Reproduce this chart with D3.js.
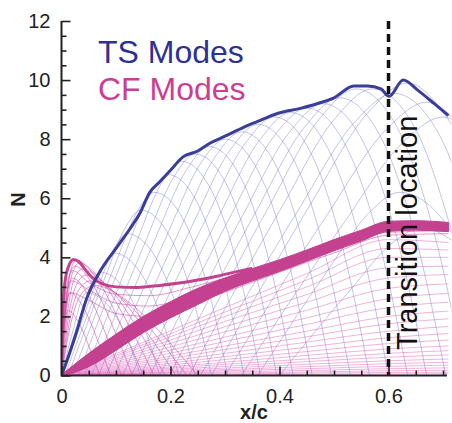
<!DOCTYPE html>
<html><head><meta charset="utf-8">
<script src="https://cdn.jsdelivr.net/npm/d3@7"></script>
<style>body{margin:0;background:#fff} svg{display:block}</style>
</head><body>
<svg id="c" width="452" height="423"></svg>
<script>
// ---------- DATA ----------
const tsEnvelope = [[0,0],[0.01,0.5],[0.028,1.5],[0.046,2.6],[0.07,3.5],[0.1,4.3],[0.125,4.95],[0.144,5.5],[0.162,6.2],[0.18,6.55],[0.2,6.95],[0.223,7.4],[0.25,7.6],[0.273,7.87],[0.3,8.1],[0.334,8.4],[0.36,8.6],[0.396,8.87],[0.44,9.05],[0.476,9.24],[0.5,9.4],[0.536,9.8],[0.562,9.8],[0.586,9.7],[0.601,9.45],[0.627,10.0],[0.654,9.65],[0.684,9.2],[0.71,8.8]];

const tsCurves = [
 [[0,0],[0.0225,1.62],[0.036,2.52],[0.045,2.8],[0.085,2.38],[0.12,1.26],[0.145,0]],
 [[0,0],[0.035,2.03],[0.056,3.15],[0.07,3.5],[0.114,2.98],[0.1525,1.58],[0.18,0]],
 [[0.002,0],[0.0485,2.41],[0.0764,3.74],[0.095,4.15],[0.143,3.53],[0.185,1.87],[0.215,0]],
 [[0.006,0],[0.063,2.78],[0.097,4.32],[0.12,4.8],[0.17,4.08],[0.214,2.16],[0.245,0]],
 [[0.012,0],[0.0785,3.25],[0.118,5.04],[0.145,5.6],[0.197,4.76],[0.2425,2.52],[0.275,0]],
 [[0.02,0],[0.095,3.6],[0.14,5.58],[0.17,6.2],[0.224,5.27],[0.271,2.79],[0.305,0]],
 [[0.03,0],[0.1125,3.94],[0.162,6.12],[0.195,6.8],[0.251,5.78],[0.3,3.06],[0.335,0]],
 [[0.042,0],[0.131,4.2],[0.184,6.53],[0.22,7.25],[0.278,6.16],[0.329,3.26],[0.365,0]],
 [[0.055,0],[0.15,4.35],[0.207,6.75],[0.245,7.5],[0.305,6.38],[0.3575,3.38],[0.395,0]],
 [[0.068,0],[0.169,4.5],[0.23,6.98],[0.27,7.75],[0.332,6.59],[0.386,3.49],[0.425,0]],
 [[0.082,0],[0.191,4.64],[0.256,7.2],[0.3,8.0],[0.364,6.8],[0.42,3.6],[0.46,0]],
 [[0.097,0],[0.2135,4.79],[0.283,7.43],[0.33,8.25],[0.396,7.01],[0.454,3.71],[0.495,0]],
 [[0.112,0],[0.236,4.93],[0.31,7.65],[0.36,8.5],[0.428,7.23],[0.4875,3.83],[0.53,0]],
 [[0.128,0],[0.259,5.08],[0.338,7.88],[0.39,8.75],[0.46,7.44],[0.521,3.94],[0.565,0]],
 [[0.145,0],[0.2825,5.16],[0.365,8.01],[0.42,8.9],[0.492,7.57],[0.555,4.0],[0.6,0]],
 [[0.162,0],[0.306,5.25],[0.392,8.15],[0.45,9.05],[0.524,7.69],[0.589,4.07],[0.635,0]],
 [[0.18,0],[0.33,5.34],[0.42,8.28],[0.48,9.2],[0.556,7.82],[0.6225,4.14],[0.67,0]],
 [[0.198,0],[0.354,5.45],[0.448,8.46],[0.51,9.4],[0.588,7.99],[0.656,4.23],[0.705,0]],
 [[0.216,0],[0.378,5.63],[0.475,8.73],[0.54,9.7],[0.62,8.25],[0.69,4.37],[0.74,0]],
 [[0.234,0],[0.402,5.63],[0.503,8.73],[0.57,9.7],[0.652,8.25],[0.724,4.37]],
 [[0.255,0],[0.4325,5.54],[0.539,8.6],[0.61,9.55],[0.694,8.12],[0.7675,4.3]],
 [[0.275,0],[0.455,5.74],[0.563,8.91],[0.635,9.9],[0.719,8.42]],
 [[0.3,0],[0.485,5.37],[0.596,8.33],[0.67,9.25],[0.754,7.86]],
 [[0.33,0],[0.515,5.08],[0.626,7.88],[0.7,8.75],[0.78,7.44]],
 [[0.36,0],[0.49,3.6],[0.568,5.58],[0.62,6.2],[0.7,5.27],[0.77,2.8]],
 [[0.4,0],[0.53,2.9],[0.608,4.5],[0.66,5.0],[0.74,4.25]]
];

const cfHump = [
 [[0,0],[0.0036,1.32],[0.0072,1.98],[0.012,2.2],[0.0323,1.76],[0.0526,0.88],[0.07,0]],
 [[0,0],[0.0048,1.68],[0.0096,2.52],[0.016,2.8],[0.0419,2.24],[0.0678,1.12],[0.09,0]],
 [[0,0],[0.006,1.98],[0.012,2.97],[0.02,3.3],[0.0515,2.64],[0.083,1.32],[0.11,0]],
 [[0,0],[0.0072,2.22],[0.0144,3.33],[0.024,3.7],[0.0611,2.96],[0.0982,1.48],[0.13,0]],
 [[0,0],[0.0081,2.34],[0.0162,3.51],[0.027,3.9],[0.07,3.12],[0.1131,1.56],[0.15,0]],
 [[0,0],[0.0096,2.28],[0.0192,3.42],[0.032,3.8],[0.0803,3.04],[0.1286,1.52],[0.17,0]],
 [[0,0],[0.0114,2.16],[0.0228,3.24],[0.038,3.6],[0.0912,2.88],[0.1444,1.44],[0.19,0]],
 [[0,0],[0.0135,2.04],[0.027,3.06],[0.045,3.4],[0.1028,2.72],[0.1605,1.36],[0.21,0]],
 [[0,0],[0.0156,1.92],[0.0312,2.88],[0.052,3.2],[0.1143,2.56],[0.1766,1.28],[0.23,0]],
 [[0,0],[0.018,1.83],[0.036,2.75],[0.06,3.05],[0.1265,2.44],[0.193,1.22],[0.25,0]]
];

const cfPlateau = [
 [[0,0],[0.006,2.6],[0.02,3.55],[0.05,3.15],[0.1,2.75],[0.16,2.7],[0.24,3.0],[0.32,3.4],[0.4,3.85],[0.5,4.45],[0.6,5.0],[0.71,5.0]],
 [[0,0],[0.006,2.3],[0.018,3.2],[0.05,2.9],[0.1,2.45],[0.16,2.35],[0.24,2.7],[0.32,3.15],[0.4,3.65],[0.5,4.3],[0.6,4.85],[0.71,4.9]],
 [[0,0],[0.006,2.0],[0.016,2.8],[0.05,2.55],[0.1,2.1],[0.16,2.0],[0.24,2.45],[0.32,2.95],[0.4,3.5],[0.5,4.15],[0.6,4.75],[0.71,4.8]]
];

const cfEnvelope = [[0,0],[0.002,1.8],[0.006,3.1],[0.013,3.7],[0.022,3.93],[0.032,3.85],[0.045,3.55],[0.057,3.3],[0.075,3.1],[0.1,3.0],[0.14,2.98],[0.18,3.05],[0.24,3.2],[0.285,3.36],[0.33,3.55],[0.35,3.62]];

const bandX    = [0.005,0.05,0.1,0.15,0.2,0.25,0.3,0.35,0.4,0.45,0.5,0.55,0.6,0.65,0.71];
const bandLow  = [0,0.3,0.85,1.45,1.95,2.4,2.85,3.2,3.52,3.87,4.22,4.55,4.88,4.92,4.87];
const bandHigh = [0.1,0.75,1.4,2.0,2.5,2.95,3.3,3.62,3.92,4.25,4.6,4.92,5.22,5.24,5.18];

const fanX = [0,0.1,0.3,0.45,0.6,0.71];
const fanN = [
 [0,0.74,2.3,3.45,4.6,4.5],[0,0.69,2.15,3.23,4.3,4.25],[0,0.64,2.0,3.0,4.0,4.0],
 [0,0.58,1.83,2.74,3.65,3.7],[0,0.53,1.65,2.48,3.3,3.42],[0,0.47,1.48,2.21,2.95,3.1],
 [0,0.42,1.3,1.95,2.6,2.78],[0,0.37,1.15,1.73,2.3,2.48],[0,0.32,1.0,1.5,2.0,2.18],
 [0,0.28,0.88,1.31,1.75,1.92],[0,0.24,0.75,1.13,1.5,1.66],[0,0.2,0.64,0.96,1.28,1.42],
 [0,0.17,0.54,0.81,1.08,1.2],[0,0.14,0.45,0.68,0.9,1.0],[0,0.12,0.38,0.56,0.75,0.84],
 [0,0.1,0.31,0.47,0.62,0.7],[0,0.08,0.25,0.38,0.5,0.56],[0,0.06,0.2,0.3,0.4,0.45],
 [0,0.05,0.16,0.23,0.31,0.35],[0,0.04,0.12,0.17,0.23,0.26],[0,0.03,0.08,0.12,0.16,0.18],
 [0,0.02,0.05,0.08,0.1,0.11],[0,0.01,0.03,0.04,0.05,0.06]
];

const xTickValues = [0,0.2,0.4,0.6];
const xTickLabels = ["0","0.2","0.4","0.6"];
const yTickValues = [0,2,4,6,8,10,12];
const transitionX = 0.6;
const legendLabels = ["TS Modes","CF Modes"];
const transitionLabel = "Transition location";

// ---------- CHART ----------
const svg = d3.select("#c");
const x = d3.scaleLinear().domain([0, 0.7073]).range([61.5, 447]);
const y = d3.scaleLinear().domain([0, 12]).range([375.5, 21]);

svg.append("defs").append("clipPath").attr("id","clip")
  .append("rect").attr("x",61.5).attr("y",0).attr("width",390).attr("height",376);

const line = d3.line().x(d=>x(d[0])).y(d=>y(d[1])).curve(d3.curveMonotoneX);
const plot = svg.append("g").attr("clip-path","url(#clip)");

// CF thin: fan lines
plot.append("g").selectAll("path").data(fanN).join("path")
  .attr("d", vals => line(vals.map((v,i)=>[fanX[i], v])))
  .attr("fill","none").attr("stroke","#e672c2").attr("stroke-width",0.9).attr("stroke-opacity",0.6);
// CF hump arcs
plot.append("g").selectAll("path").data(cfHump).join("path")
  .attr("d", line).attr("fill","none").attr("stroke","#d955ad").attr("stroke-width",0.9).attr("stroke-opacity",0.7);
plot.append("g").selectAll("path").data(cfPlateau).join("path")
  .attr("d", line).attr("fill","none").attr("stroke","#d955ad").attr("stroke-width",0.9).attr("stroke-opacity",0.7);

// TS thin
plot.append("g").selectAll("path").data(tsCurves).join("path")
  .attr("d", line).attr("fill","none").attr("stroke","#7a7acb").attr("stroke-width",0.9).attr("stroke-opacity",0.5);

// CF band
const area = d3.area().x((d,i)=>x(bandX[i])).y0((d,i)=>y(bandLow[i])).y1((d,i)=>y(bandHigh[i])).curve(d3.curveMonotoneX);
plot.append("path").attr("d", area(bandX)).attr("fill","#c3418f").attr("stroke","#c3418f").attr("stroke-width",1);
// CF envelope
plot.append("path").attr("d", line(cfEnvelope)).attr("fill","none").attr("stroke","#c3418f").attr("stroke-width",3);
// TS envelope
plot.append("path").attr("d", line(tsEnvelope)).attr("fill","none").attr("stroke","#3b3e98").attr("stroke-width",3);

// transition line
svg.append("line").attr("x1",x(transitionX)).attr("x2",x(transitionX)).attr("y1",y(12)).attr("y2",y(0))
  .attr("stroke","#111").attr("stroke-width",3.5).attr("stroke-dasharray","8,5");

// axes
const font = "'Liberation Sans', Arial, sans-serif";
const yAxis = svg.append("g").attr("transform",`translate(${x(0)},0)`)
  .call(d3.axisLeft(y).tickValues(yTickValues).tickSize(-9).tickPadding(11).tickFormat(d3.format("d")));
const yMinor = svg.append("g").attr("transform",`translate(${x(0)},0)`)
  .call(d3.axisLeft(y).tickValues(d3.range(0,12.01,0.5).filter(v=>v%2!==0)).tickSize(-5).tickFormat(""));
const xAxis = svg.append("g").attr("transform",`translate(0,${y(0)})`)
  .call(d3.axisBottom(x).tickValues(xTickValues).tickSize(-9).tickPadding(13).tickFormat((d,i)=>xTickLabels[i]));
const xMinor = svg.append("g").attr("transform",`translate(0,${y(0)})`)
  .call(d3.axisBottom(x).tickValues([0.05,0.1,0.15,0.25,0.3,0.35,0.45,0.5,0.55,0.65,0.7]).tickSize(-5).tickFormat(""));
[yAxis,yMinor,xAxis,xMinor].forEach(g=>{
  g.select(".domain").remove();
  g.selectAll("line").attr("stroke","#222").attr("stroke-width",1.6);
  g.selectAll("text").attr("font-family",font).attr("font-size",20).attr("fill","#222");
});
svg.append("line").attr("x1",x(0)).attr("x2",x(0)).attr("y1",y(12)).attr("y2",y(0)+1).attr("stroke","#222").attr("stroke-width",2);
svg.append("line").attr("x1",x(0)).attr("x2",447).attr("y1",y(0)).attr("y2",y(0)).attr("stroke","#222").attr("stroke-width",2);

// titles
svg.append("text").attr("x",254).attr("y",419).attr("text-anchor","middle")
  .attr("font-family",font).attr("font-size",20).attr("font-weight","bold").attr("fill","#222").text("x/c");
svg.append("text").attr("transform","translate(25,199.5) rotate(-90)").attr("text-anchor","middle")
  .attr("font-family",font).attr("font-size",20).attr("font-weight","bold").attr("fill","#222").text("N");

// legend text
svg.append("text").attr("x",98).attr("y",63).attr("font-family",font).attr("font-size",32).attr("fill","#2e3192").text(legendLabels[0]);
svg.append("text").attr("x",98).attr("y",100).attr("font-family",font).attr("font-size",32).attr("fill","#cc3d96").text(legendLabels[1]);

// transition label
svg.append("text").attr("transform",`translate(417,350) rotate(-90)`)
  .attr("font-family",font).attr("font-size",29).attr("fill","#111").text(transitionLabel);
</script>
</body></html>
